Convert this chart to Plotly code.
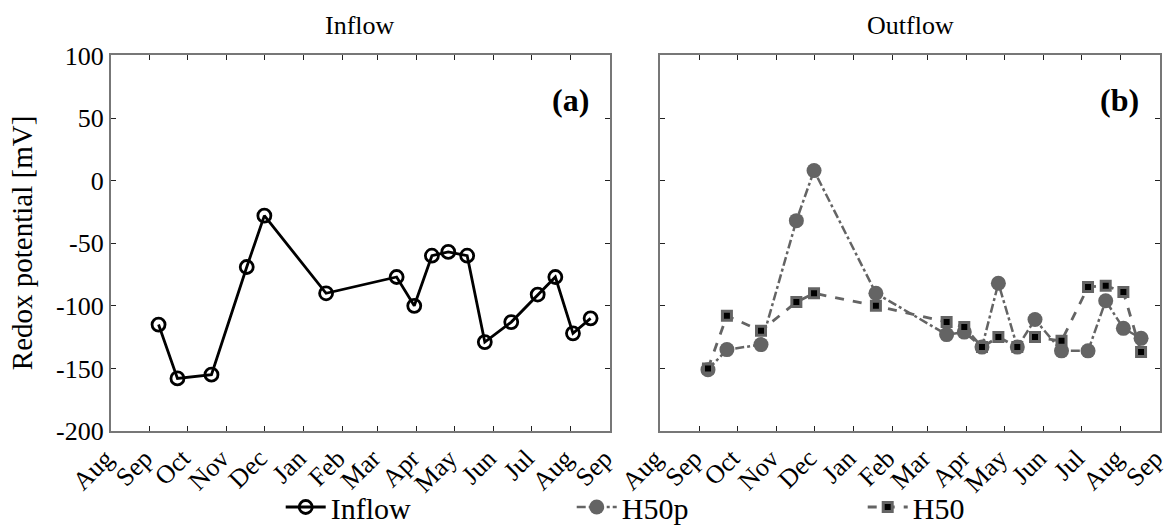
import plotly.graph_objects as go

# ---------------- data ----------------
sample_dates = ["2010-09-08", "2010-09-23", "2010-10-20", "2010-11-17", "2010-12-01",
                "2011-01-19", "2011-03-16", "2011-03-30", "2011-04-13", "2011-04-26",
                "2011-05-11", "2011-05-25", "2011-06-15", "2011-07-06", "2011-07-20",
                "2011-08-03", "2011-08-17"]
inflow = [-115, -158, -155, -69, -28, -90, -77, -100, -60, -57, -60, -129, -113, -91, -77, -122, -110]
h50p = [-151, -135, -131, -32, 8, -90, -123, -121, -133, -82, -133, -111, -136, -136, -96, -118, -126]
h50 = [-150, -108, -120, -97, -90, -100, -113, -117, -133, -125, -133, -125, -128, -85, -84, -89, -137]

month_ticks = ["2010-08-01", "2010-09-01", "2010-10-01", "2010-11-01", "2010-12-01",
               "2011-01-01", "2011-02-01", "2011-03-01", "2011-04-01", "2011-05-01",
               "2011-06-01", "2011-07-01", "2011-08-01", "2011-09-01"]
month_labels = ["Aug", "Sep", "Oct", "Nov", "Dec", "Jan", "Feb", "Mar", "Apr", "May",
                "Jun", "Jul", "Aug", "Sep"]
y_ticks = [100, 50, 0, -50, -100, -150, -200]
y_labels = [str(v) for v in y_ticks]

FONT = "Liberation Serif"
GRAY = "rgb(100,100,100)"
W, H = 1170, 526

fig = go.Figure()

fig.add_trace(go.Scatter(
    x=sample_dates, y=inflow, name="Inflow", mode="lines+markers",
    line=dict(color="black", width=2.8),
    marker=dict(symbol="circle-open", size=13, color="black", line=dict(width=2.8)),
    xaxis="x", yaxis="y"))
fig.add_trace(go.Scatter(
    x=sample_dates, y=h50p, name="H50p", mode="lines+markers",
    line=dict(color=GRAY, width=2.5, dash="dashdot"),
    marker=dict(symbol="circle", size=15, color=GRAY),
    xaxis="x2", yaxis="y2"))
fig.add_trace(go.Scatter(
    x=sample_dates, y=h50, name="H50", mode="lines+markers",
    line=dict(color=GRAY, width=2.8, dash="dash"),
    marker=dict(symbol="square", size=9, color="black", line=dict(color=GRAY, width=3)),
    xaxis="x2", yaxis="y2"))

x_dom1 = [110.7 / W, 609.5 / W]
x_dom2 = [660.0 / W, 1160.0 / W]
y_dom = [1 - 431.0 / H, 1 - 55.4 / H]

xcommon = dict(type="date", range=[month_ticks[0], month_ticks[-1]],
               tickmode="array", tickvals=month_ticks, ticktext=month_labels,
               tickangle=-45, ticks="inside", ticklen=5, tickwidth=1.3, tickcolor="#222",
               showline=True, linecolor="#777", linewidth=1.6, mirror="ticks",
               showgrid=False, zeroline=False, automargin=False, ticklabeloverflow="allow",
               ticklabelshift=-5,
               tickfont=dict(family=FONT, size=26, color="black"))
ycommon = dict(range=[-200, 100], tickmode="array", tickvals=y_ticks, ticktext=y_labels,
               ticks="inside", ticklen=5, tickwidth=1.3, tickcolor="#222",
               showline=True, linecolor="#777", linewidth=1.6, mirror="ticks",
               showgrid=False, zeroline=False, automargin=False,
               tickfont=dict(family=FONT, size=26, color="black"))

fig.update_layout(
    width=W, height=H,
    margin=dict(l=0, r=0, t=0, b=0, autoexpand=False),
    paper_bgcolor="white", plot_bgcolor="white",
    font=dict(family=FONT, color="black"),
    xaxis=dict(domain=x_dom1, anchor="y", **xcommon),
    yaxis=dict(domain=y_dom, anchor="x", **ycommon),
    xaxis2=dict(domain=x_dom2, anchor="y2", **xcommon),
    yaxis2=dict(domain=y_dom, anchor="x2", showticklabels=False,
                **{k: v for k, v in ycommon.items() if k != "tickfont"}),
    showlegend=True,
    legend=dict(orientation="h", x=0.613, xanchor="center", y=1 - 507.0 / H, yanchor="middle",
                entrywidth=236, entrywidthmode="pixels", itemwidth=40,
                font=dict(family=FONT, size=30, color="black"),
                bgcolor="rgba(0,0,0,0)"),
)

annotations = [
    dict(text="Inflow", x=sum(x_dom1) / 2, y=1 - 25.0 / H, xref="paper", yref="paper",
         showarrow=False, font=dict(family=FONT, size=26), xanchor="center", yanchor="middle"),
    dict(text="Outflow", x=sum(x_dom2) / 2, y=1 - 25.0 / H, xref="paper", yref="paper",
         showarrow=False, font=dict(family=FONT, size=26), xanchor="center", yanchor="middle"),
    dict(text="<b>(a)</b>", x=0.962, y=0.88, xref="x domain", yref="y domain",
         showarrow=False, font=dict(family=FONT, size=32), xanchor="right", yanchor="middle"),
    dict(text="<b>(b)</b>", x=0.962, y=0.88, xref="x2 domain", yref="y2 domain",
         showarrow=False, font=dict(family=FONT, size=32), xanchor="right", yanchor="middle"),
    dict(text="Redox potential [mV]", x=22.0 / W, y=sum(y_dom) / 2, xref="paper", yref="paper",
         textangle=-90, showarrow=False, font=dict(family=FONT, size=29),
         xanchor="center", yanchor="middle"),
]
fig.update_layout(annotations=annotations)

fig.write_html("out.html")
